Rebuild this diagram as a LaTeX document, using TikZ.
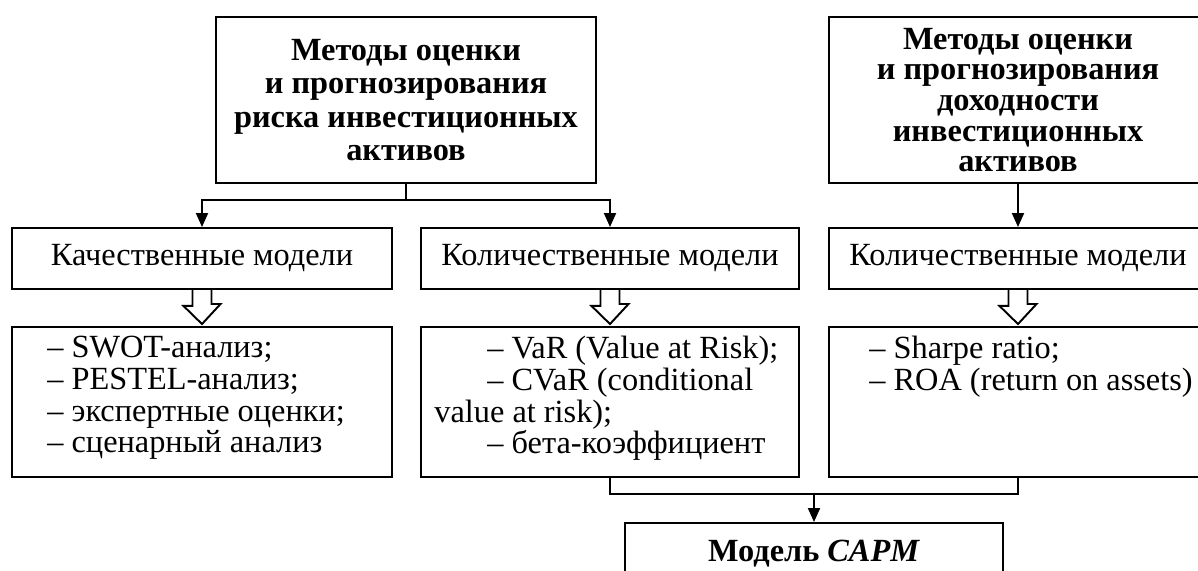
\documentclass[tikz,border=0pt]{standalone}
\usepackage{fontspec}
\setmainfont{Liberation Serif}
\usetikzlibrary{arrows.meta}

\begin{document}
\begin{tikzpicture}[
    font=\fontsize{18.4}{18}\selectfont,
    headbox/.style = {rectangle, draw, line width=1.1pt, minimum width=7.6cm, minimum height=3.32cm, align=center},
    modelbox/.style = {rectangle, draw, line width=1.1pt, minimum width=7.56cm, minimum height=1.22cm, inner sep=0pt},
    listbox/.style = {rectangle, draw, line width=1.1pt, minimum width=7.56cm, minimum height=3cm},
    listtext/.style = {anchor=north west, inner sep=0pt, align=left},
    arrow/.style = {draw, -{Triangle[length=2.8mm,width=2.4mm]}, line width=1.1pt},
    link/.style = {draw, line width=1.1pt},
    hollow/.style = {draw, line width=1.1pt, line join=miter}
]
    \useasboundingbox (0,0) rectangle (23.96,11.4);
    \clip (0,0) rectangle (23.96,11.4);

    \node[headbox, font=\bfseries\fontsize{18.4}{19}\selectfont] (riskhead) at (8.12, 9.40) {Методы оценки\\и прогнозирования\\риска инвестиционных\\активов};
    \node[headbox, minimum width=7.56cm, font=\bfseries\fontsize{18.4}{17.4}\selectfont] (yieldhead) at (20.36, 9.40) {Методы оценки\\и прогнозирования\\доходности\\инвестиционных\\активов};

    \node[modelbox, minimum width=7.6cm] (qual) at (4.04, 6.23) {Качественные модели};
    \node[modelbox] (quant) at (12.20, 6.23) {Количественные модели};
    \node[modelbox] (yieldquant) at (20.36, 6.23) {Количественные модели};

    \node[listbox, minimum width=7.6cm] (quallist) at (4.04, 3.36) {};
    \node[listbox] (quantlist) at (12.20, 3.36) {};
    \node[listbox] (yieldlist) at (20.36, 3.36) {};

    \node[listtext] (qualtext) at ([xshift=0.72cm, yshift=-0.2cm]quallist.north west) {– SWOT-анализ;\\– PESTEL-анализ;\\– экспертные оценки;\\– сценарный анализ};
    \node[listtext] (quanttext) at ([xshift=0.28cm, yshift=-0.2cm]quantlist.north west) {\hspace*{1.06cm}– VaR (Value at Risk);\\\hspace*{1.06cm}– CVaR (conditional\\value at risk);\\\hspace*{1.06cm}– бета-коэффициент};
    \node[listtext] (yieldtext) at ([xshift=0.82cm, yshift=-0.2cm]yieldlist.north west) {– Sharpe ratio;\\– ROA (return on assets)};

    \node[modelbox, font=\bfseries\fontsize{18.4}{18}\selectfont] (capm) at (16.28, 0.33) {Модель \textit{CAPM}};

    % branches from the heads
    \path[link] (riskhead.south) -- ++(0,-0.32) coordinate (branch);
    \path[arrow] (branch) -| (qual);
    \path[arrow] (branch) -| (quant);
    \path[arrow] (yieldhead) -- (yieldquant);

    % hollow arrows to the lists
    \foreach \a/\b in {qual/quallist, quant/quantlist, yieldquant/yieldlist}
        \path[hollow] ([xshift=-1.9mm]\a.south) -- ++(0,-3.2mm) -- ++(-1.8mm,0) -- ([yshift=0.4mm]\b.north) -- ++(3.7mm,4.0mm) -- ++(-1.8mm,0) -- ++(0,3.2mm);

    % join to CAPM
    \path[link] (quantlist.south) -- ++(0,-0.32) coordinate (low) -| (yieldlist.south);
    \path[arrow] (low -| capm.north) -- (capm.north);
\end{tikzpicture}
\end{document}
